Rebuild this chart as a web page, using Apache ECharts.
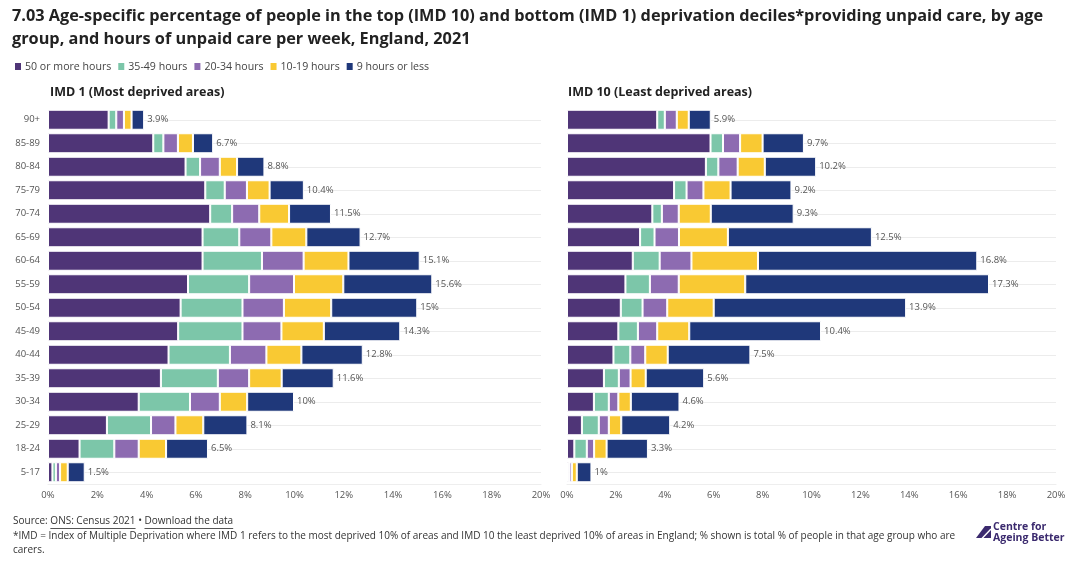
<!DOCTYPE html>
<html>
<head>
<meta charset="utf-8">
<script src="https://cdn.jsdelivr.net/npm/echarts@6/dist/echarts.min.js"></script>
<style>
  html, body { margin: 0; padding: 0; background: #fff; }
  #chart { width: 1090px; height: 576px; }
</style>
</head>
<body>
<div id="chart"></div>
<script>
// ---------- DATA ----------
const ages = ['90+','85-89','80-84','75-79','70-74','65-69','60-64','55-59','50-54','45-49','40-44','35-39','30-34','25-29','18-24','5-17'];
const seriesNames = ['50 or more hours','35-49 hours','20-34 hours','10-19 hours','9 hours or less'];
const xTicks = [0, 2, 4, 6, 8, 10, 12, 14, 16, 18, 20];

// IMD 1 (Most deprived areas)
const imd1_50plus = [2.46, 4.27, 5.58, 6.38, 6.58, 6.27, 6.27, 5.68, 5.38, 5.28, 4.89, 4.58, 3.68, 2.39, 1.28, 0.18];
const imd1_35to49 = [0.31, 0.41, 0.59, 0.79, 0.89, 1.49, 2.41, 2.48, 2.51, 2.61, 2.49, 2.31, 2.08, 1.79, 1.41, 0.14];
const imd1_20to34 = [0.31, 0.59, 0.80, 0.90, 1.10, 1.30, 1.69, 1.82, 1.68, 1.58, 1.48, 1.27, 1.21, 0.99, 0.99, 0.17];
const imd1_10to19 = [0.31, 0.61, 0.70, 0.92, 1.21, 1.42, 1.82, 2.00, 1.92, 1.72, 1.42, 1.32, 1.11, 1.13, 1.11, 0.31];
const imd1_9less  = [0.51, 0.82, 1.11, 1.39, 1.70, 2.20, 2.89, 3.61, 3.49, 3.10, 2.49, 2.11, 1.90, 1.79, 1.70, 0.69];
const imd1_total  = [3.9, 6.7, 8.8, 10.4, 11.5, 12.7, 15.1, 15.6, 15, 14.3, 12.8, 11.6, 10, 8.1, 6.5, 1.5];

// IMD 10 (Least deprived areas)
const imd10_50plus = [3.69, 5.87, 5.68, 4.38, 3.49, 2.99, 2.69, 2.39, 2.20, 2.10, 1.90, 1.51, 1.10, 0.61, 0.30, 0.07];
const imd10_35to49 = [0.31, 0.51, 0.51, 0.51, 0.39, 0.59, 1.10, 1.00, 0.89, 0.80, 0.69, 0.61, 0.61, 0.69, 0.51, 0.03];
const imd10_20to34 = [0.49, 0.70, 0.79, 0.69, 0.69, 1.00, 1.30, 1.18, 1.01, 0.79, 0.61, 0.48, 0.39, 0.41, 0.30, 0.10];
const imd10_10to19 = [0.49, 0.92, 1.11, 1.11, 1.31, 2.00, 2.72, 2.72, 1.90, 1.31, 0.92, 0.62, 0.51, 0.51, 0.51, 0.20];
const imd10_9less  = [0.90, 1.69, 2.10, 2.49, 3.39, 5.89, 8.97, 9.97, 7.87, 5.39, 3.38, 2.39, 1.99, 2.00, 1.69, 0.60];
const imd10_total  = [5.9, 9.7, 10.2, 9.2, 9.3, 12.5, 16.8, 17.3, 13.9, 10.4, 7.5, 5.6, 4.6, 4.2, 3.3, 1];

// ---------- STYLE ----------
const colors = ['#4f3577', '#7cc6a9', '#8d6bb1', '#f9c933', '#1f387a'];
const FONT = '"Open Sans", "Noto Sans", sans-serif';
const TXT = '#555';

const chart = echarts.init(document.getElementById('chart'), null, { renderer: 'canvas' });

function makeSeries(gridIdx, arrays, totals) {
  return arrays.map((arr, i) => ({
    name: seriesNames[i],
    type: 'bar',
    stack: 'g' + gridIdx,
    xAxisIndex: gridIdx,
    yAxisIndex: gridIdx,
    barWidth: 20,
    data: arr,
    itemStyle: { color: colors[i], borderColor: '#ffffff', borderWidth: 1 },
    emphasis: { disabled: true },
    label: i === arrays.length - 1 ? {
      show: true,
      position: 'right',
      distance: 3,
      color: TXT,
      fontSize: 9.5,
      fontFamily: FONT,
      formatter: p => totals[p.dataIndex] + '%'
    } : { show: false }
  }));
}

const gridTop = 108, gridH = 376;

function xAxisCfg(gi) {
  return {
    type: 'value', gridIndex: gi, min: 0, max: 20, interval: 2,
    axisLine: { show: true, lineStyle: { color: '#eeeeee' } },
    axisTick: { show: false },
    splitLine: { show: false },
    axisLabel: { color: TXT, fontSize: 9.5, fontFamily: FONT, margin: 6,
      formatter: v => xTicks.includes(v) ? v + '%' : '' }
  };
}
function yAxisCfg(gi, showLabels) {
  return {
    type: 'category', gridIndex: gi, data: ages, inverse: true,
    axisLine: { show: false }, axisTick: { show: false },
    splitLine: { show: true, alignWithLabel: true, lineStyle: { color: '#ececec', width: 1 } },
    axisLabel: { show: showLabels, color: TXT, fontSize: 9.5, fontFamily: FONT, margin: 8 }
  };
}

// measure text for footer layout
const mctx = document.createElement('canvas').getContext('2d');
function tw(text, font) { mctx.font = font; return mctx.measureText(text).width; }

const footFont = '10px ' + FONT;
const fParts = [
  { t: 'Source: ', u: false },
  { t: 'ONS: Census 2021', u: true },
  { t: ' \u2022 ', u: false },
  { t: 'Download the data', u: true }
];
const footerGraphics = [];
let fx = 13;
const fy = 523;
fParts.forEach(p => {
  const w = tw(p.t, footFont);
  footerGraphics.push({ type: 'text', left: fx, top: fy - 7, z: 10, style: { text: p.t, font: footFont, fill: '#333' } });
  if (p.u) {
    footerGraphics.push({ type: 'rect', z: 11, shape: { x: fx, y: fy + 5, width: w, height: 1 }, style: { fill: '#555' } });
  }
  fx += w;
});

const option = {
  backgroundColor: '#ffffff',
  animation: false,
  textStyle: { fontFamily: FONT },
  title: {
    text: '7.03 Age-specific percentage of people in the top (IMD 10) and bottom (IMD 1) deprivation deciles*providing unpaid care, by age\ngroup, and hours of unpaid care per week, England, 2021',
    left: 12, top: 5, padding: 0,
    textStyle: { fontFamily: FONT, fontWeight: 'bold', fontSize: 16.3, color: '#222', lineHeight: 23 }
  },
  legend: {
    data: seriesNames,
    left: 13, top: 61, padding: 0,
    icon: 'rect', itemWidth: 8, itemHeight: 9, itemGap: 5,
    textStyle: { fontFamily: FONT, fontSize: 10.6, color: '#444', padding: [0, 0, 0, -2] },
    selectedMode: false
  },
  grid: [
    { left: 48, width: 493, top: gridTop, height: gridH },
    { left: 567, width: 489, top: gridTop, height: gridH }
  ],
  xAxis: [xAxisCfg(0), xAxisCfg(1)],
  yAxis: [yAxisCfg(0, true), yAxisCfg(1, false)],
  series: [
    ...makeSeries(0, [imd1_50plus, imd1_35to49, imd1_20to34, imd1_10to19, imd1_9less], imd1_total),
    ...makeSeries(1, [imd10_50plus, imd10_35to49, imd10_20to34, imd10_10to19, imd10_9less], imd10_total)
  ],
  graphic: [
    { type: 'text', left: 50, top: 86, style: { text: 'IMD 1 (Most deprived areas)', font: 'bold 12.5px ' + FONT, fill: '#222' } },
    { type: 'text', left: 568, top: 86, style: { text: 'IMD 10 (Least deprived areas)', font: 'bold 12.5px ' + FONT, fill: '#222' } },
    ...footerGraphics,
    { type: 'text', left: 13, top: 531, style: { text: '*IMD = Index of Multiple Deprivation where IMD 1 refers to the most deprived 10% of areas and IMD 10 the least deprived 10% of areas in England; % shown is total % of people in that age group who are', font: footFont, fill: '#333' } },
    { type: 'text', left: 13, top: 545, style: { text: 'carers.', font: footFont, fill: '#333' } },
    // logo
    { type: 'polygon', shape: { points: [[976, 538], [985, 526], [991, 526], [991, 538]] }, style: { fill: '#3b2a6e' } },
    { type: 'line', shape: { x1: 982, y1: 538.5, x2: 991, y2: 529 }, style: { stroke: '#fff', lineWidth: 1.4 } },
    { type: 'text', left: 993, top: 522, style: { text: 'Centre for', font: 'bold 10.5px ' + FONT, fill: '#3b2a6e' } },
    { type: 'text', left: 993, top: 533, style: { text: 'Ageing Better', font: 'bold 10.5px ' + FONT, fill: '#3b2a6e' } }
  ]
};

chart.setOption(option);
</script>
</body>
</html>
